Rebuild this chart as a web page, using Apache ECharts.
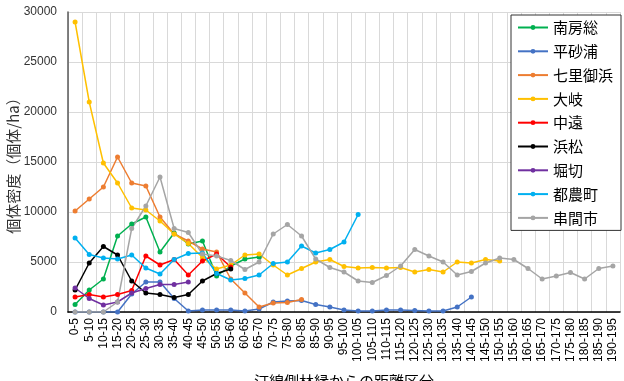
<!DOCTYPE html>
<html>
<head>
<meta charset="utf-8">
<script src="https://cdn.jsdelivr.net/npm/echarts@6/dist/echarts.min.js"></script>
<style>
html,body{margin:0;padding:0;background:#fff;}
#chart{width:624px;height:381px;}
</style>
</head>
<body>
<div id="chart"></div>
<script>
const categories = ["0-5","5-10","10-15","15-20","20-25","25-30","30-35","35-40","40-45","45-50","50-55","55-60","60-65","65-70","70-75","75-80","80-85","85-90","90-95","95-100","100-105","105-110","110-115","115-120","120-125","125-130","130-135","135-140","140-145","145-150","150-155","155-160","160-165","165-170","170-175","175-180","180-185","185-190","190-195"];

const minamiboso = [750,2200,3300,7600,8800,9500,6000,7900,6800,7100,3600,4600,5300,5500];
const hirasuna = [0,0,0,0,1800,3000,3000,1350,100,200,200,200,100,300,1000,1100,1150,750,500,200,100,100,200,200,150,100,100,500,1500];
const shichiri = [10100,11300,12500,15500,12900,12600,9500,7800,7100,6300,6000,3300,1900,500,900,950,1250];
const ooki = [29000,21000,14900,12900,10400,10200,9100,7800,6850,5450,4300,4700,5700,5800,4700,3700,4350,5000,5250,4550,4400,4450,4400,4450,4000,4250,4000,5000,4900,5250,5100];
const chuen = [1500,1750,1500,1750,2150,5600,4700,5250,3700,5100,5800,4500];
const hamamatsu = [2200,4900,6550,5700,3100,1900,1750,1450,1750,3100,3850,4300];
const horikiri = [2400,1350,700,1000,1900,2350,2750,2750,3000];
const tsuno = [7400,5750,5400,5300,5700,4400,3800,5250,5850,5900,3850,3200,3350,3700,4850,5000,6600,5900,6250,7000,9750];
const kushima = [0,0,0,1000,8350,10600,13500,8350,7950,5800,5600,5150,4250,5000,7800,8750,7600,5300,4450,4000,3100,2950,3650,4600,6250,5600,5000,3700,4050,4900,5400,5250,4350,3300,3600,3950,3300,4350,4600];

const seriesNames = ["南房総","平砂浦","七里御浜","大岐","中遠","浜松","堀切","都農町","串間市"];
const seriesData = [minamiboso,hirasuna,shichiri,ooki,chuen,hamamatsu,horikiri,tsuno,kushima];
const colors = ["#00B050","#4472C4","#ED7D31","#FFC000","#FF0000","#000000","#7030A0","#00B0F0","#A5A5A5"];

const FONT = "'Liberation Sans','Noto Sans CJK JP',sans-serif";
const CJK = "'Noto Sans CJK JP','Liberation Sans',sans-serif";

const chart = echarts.init(document.getElementById('chart'), null, {renderer:'canvas'});
chart.setOption({
  animation:false,
  backgroundColor:'#fff',
  color: colors,
  grid:{left:68, right:4, top:12, bottom:69, containLabel:false, outerBoundsMode:'none'},
  legend:{
    orient:'vertical',
    left:511, top:15,
    width:104,
    backgroundColor:'#fff',
    borderColor:'#333',
    borderWidth:1,
    padding:[5,8,5,6],
    itemWidth:30, itemHeight:6, itemGap:8.8,
    textStyle:{fontFamily:CJK, fontSize:15, color:'#000'},
    data: seriesNames
  },
  xAxis:{
    type:'category',
    data: categories,
    boundaryGap:true,
    name:'汀線側林縁からの距離区分',
    nameLocation:'middle',
    nameGap:62,
    nameMoveOverlap:false,
    nameTextStyle:{fontFamily:CJK, fontSize:15, color:'#000'},
    axisLine:{show:true, lineStyle:{color:'#000', width:1.5}},
    axisTick:{show:false},
    axisLabel:{interval:0, rotate:90, fontFamily:FONT, fontSize:12, color:'#000', margin:6},
    splitLine:{show:true, lineStyle:{color:'#d9d9d9', width:1}}
  },
  yAxis:{
    type:'value',
    min:0, max:30000, interval:5000,
    name:'個体密度（個体/ha）',
    nameLocation:'middle',
    nameGap:47,
    nameMoveOverlap:false,
    nameRotate:90,
    nameTextStyle:{fontFamily:CJK, fontSize:15, color:'#333'},
    axisLine:{show:true, lineStyle:{color:'#595959', width:1.5}},
    axisTick:{show:false},
    axisLabel:{fontFamily:FONT, fontSize:12, color:'#333', margin:11, formatter:(v)=>String(v)},
    splitLine:{show:true, lineStyle:{color:'#d9d9d9', width:1}}
  },
  series: seriesNames.map((n,i)=>({
    name:n,
    type:'line',
    data: seriesData[i],
    symbol:'circle',
    symbolSize:5,
    connectNulls:false,
    lineStyle:{width:1.5, color:colors[i]},
    itemStyle:{color:colors[i]}
  }))
});
</script>
</body>
</html>
